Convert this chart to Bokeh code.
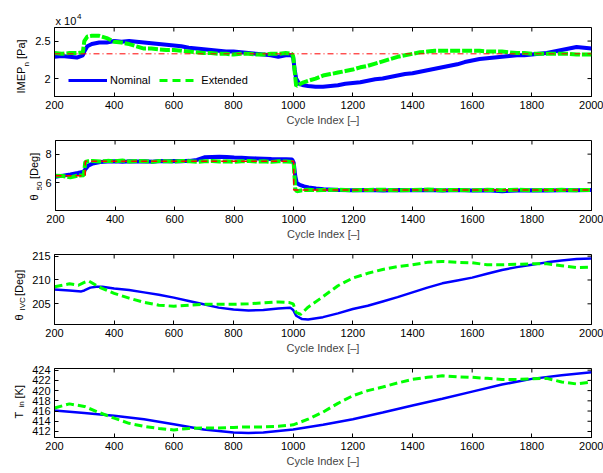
import math
from bokeh.plotting import figure
from bokeh.layouts import column, row
from bokeh.models import Range1d, FixedTicker, Legend, LegendItem
from bokeh.core.properties import value
from bokeh.embed import file_html
from bokeh.resources import INLINE

# ---------------- data ----------------
x_lim = [200, 2000]
x_ticks = [200, 400, 600, 800, 1000, 1200, 1400, 1600, 1800, 2000]

# Panel 1: IMEP_n (x 10^4 Pa)
imep_x = [200, 225, 250, 275, 295, 300, 310, 325, 350, 375, 400, 425, 450, 475, 500, 525, 550, 575,
          600, 625, 650, 675, 700, 725, 750, 775, 800, 825, 850, 875, 900, 925, 950, 975, 995, 1000,
          1005, 1010, 1020, 1035, 1050, 1075, 1100, 1125, 1150, 1175, 1200, 1225, 1250, 1275, 1300,
          1325, 1350, 1375, 1400, 1425, 1450, 1475, 1500, 1525, 1550, 1575, 1600, 1625, 1650, 1675,
          1700, 1725, 1750, 1775, 1800, 1825, 1850, 1875, 1900, 1925, 1950, 1975, 2000]
imep_nominal = [2.29, 2.30, 2.29, 2.28, 2.31, 2.36, 2.43, 2.46, 2.48, 2.48, 2.50, 2.49, 2.50, 2.49,
                2.48, 2.47, 2.46, 2.45, 2.44, 2.43, 2.41, 2.40, 2.39, 2.38, 2.37, 2.36, 2.36, 2.35,
                2.34, 2.33, 2.32, 2.31, 2.29, 2.31, 2.31, 2.28, 2.12, 2.00, 1.93, 1.91, 1.90, 1.89,
                1.89, 1.90, 1.91, 1.93, 1.94, 1.95, 1.97, 1.99, 2.00, 2.02, 2.04, 2.06, 2.07, 2.09,
                2.11, 2.13, 2.15, 2.17, 2.19, 2.22, 2.24, 2.26, 2.27, 2.28, 2.29, 2.30, 2.31, 2.31,
                2.32, 2.33, 2.34, 2.36, 2.38, 2.40, 2.42, 2.41, 2.40]
imep_extended = [2.34, 2.33, 2.34, 2.34, 2.35, 2.50, 2.56, 2.57, 2.57, 2.54, 2.49, 2.48, 2.46, 2.43,
                 2.40, 2.40, 2.39, 2.38, 2.38, 2.37, 2.36, 2.35, 2.34, 2.34, 2.33, 2.33, 2.32, 2.33,
                 2.33, 2.32, 2.32, 2.33, 2.33, 2.34, 2.33, 2.30, 2.10, 1.90, 1.92, 1.95, 1.97, 2.00,
                 2.04, 2.06, 2.08, 2.10, 2.12, 2.15, 2.17, 2.20, 2.23, 2.26, 2.29, 2.31, 2.33, 2.35,
                 2.36, 2.37, 2.37, 2.37, 2.37, 2.37, 2.37, 2.37, 2.36, 2.36, 2.36, 2.35, 2.34, 2.34,
                 2.33, 2.33, 2.33, 2.33, 2.33, 2.33, 2.32, 2.32, 2.32]
imep_ref_x = [200, 2000]
imep_ref = [2.33, 2.33]

# Panel 2: theta_50 [Deg]
th50_x = [200, 225, 250, 275, 295, 300, 310, 325, 350, 375, 400, 425, 450, 475, 500, 525, 550, 575,
          600, 625, 650, 675, 700, 725, 750, 775, 800, 825, 850, 875, 900, 925, 950, 975, 995, 1000,
          1005, 1010, 1020, 1035, 1050, 1075, 1100, 1150, 1200, 1250, 1300, 1350, 1400, 1450, 1500,
          1550, 1600, 1650, 1700, 1725, 1750, 1800, 1850, 1900, 1950, 2000]
th50_nominal = [6.42, 6.50, 6.58, 6.68, 6.78, 6.95, 7.20, 7.35, 7.45, 7.48, 7.50, 7.46, 7.50, 7.48,
                7.50, 7.47, 7.52, 7.50, 7.52, 7.50, 7.53, 7.60, 7.78, 7.80, 7.82, 7.80, 7.76, 7.74,
                7.72, 7.70, 7.68, 7.66, 7.65, 7.64, 7.62, 7.40, 6.50, 6.00, 5.85, 5.75, 5.68, 5.60,
                5.55, 5.50, 5.48, 5.50, 5.47, 5.50, 5.48, 5.50, 5.47, 5.50, 5.46, 5.48, 5.42, 5.44,
                5.47, 5.48, 5.47, 5.49, 5.48, 5.50]
th50_extended = [6.50, 6.48, 6.38, 6.50, 6.52, 7.45, 7.50, 7.52, 7.48, 7.53, 7.50, 7.55, 7.48, 7.52,
                 7.50, 7.46, 7.52, 7.50, 7.48, 7.52, 7.50, 7.46, 7.50, 7.52, 7.48, 7.50, 7.46, 7.50,
                 7.52, 7.48, 7.50, 7.46, 7.50, 7.48, 7.46, 7.40, 5.60, 5.40, 5.45, 5.50, 5.52, 5.48,
                 5.50, 5.52, 5.48, 5.50, 5.52, 5.48, 5.50, 5.53, 5.49, 5.50, 5.48, 5.51, 5.49, 5.50,
                 5.52, 5.48, 5.50, 5.51, 5.49, 5.50]
th50_ref_x = [200, 300, 300, 1000, 1000, 2000]
th50_ref = [6.5, 6.5, 7.5, 7.5, 5.5, 5.5]

# Panel 3: theta_IVC [Deg]
ivc_nom_x = [200, 250, 290, 300, 320, 340, 360, 400, 450, 500, 550, 600, 650, 700, 750, 800, 850,
             900, 950, 990, 1000, 1010, 1030, 1050, 1100, 1150, 1200, 1250, 1300, 1350, 1400, 1450,
             1500, 1550, 1600, 1650, 1700, 1750, 1800, 1850, 1900, 1950, 2000]
ivc_nominal = [208.0, 207.8, 207.6, 207.8, 208.4, 208.6, 208.6, 208.2, 207.9, 207.4, 206.9, 206.3,
               205.6, 204.9, 204.2, 203.8, 203.6, 203.7, 204.0, 204.2, 203.7, 202.5, 201.8, 201.7,
               202.2, 203.0, 203.9, 204.6, 205.5, 206.4, 207.4, 208.4, 209.3, 209.9, 210.5, 211.3,
               212.1, 212.7, 213.2, 213.7, 214.1, 214.4, 214.5]
ivc_ext_x = [200, 250, 280, 300, 315, 350, 400, 450, 500, 550, 600, 650, 700, 750, 800, 850, 900,
             950, 985, 1000, 1010, 1025, 1050, 1100, 1150, 1200, 1250, 1300, 1350, 1400, 1450, 1500,
             1550, 1600, 1650, 1700, 1750, 1800, 1850, 1900, 1950, 2000]
ivc_extended = [208.6, 209.2, 208.9, 209.5, 209.8, 208.5, 207.2, 206.2, 205.3, 204.7, 204.5, 204.7,
                204.9, 204.9, 204.9, 205.0, 205.2, 205.4, 205.3, 205.0, 203.2, 202.8, 204.3, 206.5,
                208.8, 210.4, 211.4, 212.2, 212.8, 213.2, 213.7, 213.9, 213.7, 213.6, 213.2, 213.2,
                213.3, 213.4, 213.4, 213.0, 212.6, 212.7]

# Panel 4: T_in [K]
tin_nom_x = [200, 300, 400, 500, 600, 700, 800, 850, 900, 1000, 1100, 1200, 1300, 1400, 1500, 1600,
             1700, 1800, 1900, 2000]
tin_nominal = [416.1, 415.6, 415.1, 414.4, 413.4, 412.4, 411.8, 411.7, 411.8, 412.4, 413.3, 414.4,
               415.7, 417.1, 418.4, 419.8, 421.2, 422.3, 423.0, 423.6]
tin_ext_x = [200, 250, 300, 350, 400, 450, 500, 550, 600, 650, 700, 750, 800, 850, 900, 950, 1000,
             1050, 1100, 1150, 1200, 1250, 1300, 1350, 1400, 1450, 1500, 1550, 1600, 1650, 1700,
             1750, 1800, 1850, 1900, 1950, 2000]
tin_extended = [416.6, 417.4, 416.9, 415.7, 414.6, 413.6, 413.0, 412.6, 412.3, 412.6, 412.7, 412.7,
                412.8, 412.9, 412.9, 413.0, 413.3, 414.4, 415.8, 417.5, 419.0, 420.0, 420.7, 421.5,
                422.2, 422.6, 422.9, 422.7, 422.6, 422.4, 422.2, 422.2, 422.3, 422.4, 421.7, 421.3,
                421.7]

series_labels = ["Nominal", "Extended"]
x_label = "Cycle Index [\u2013]"

# ---------------- style / layout ----------------
W = 603
FL, FR = 54, 12            # page x of frame left, right border width
FONT = "Liberation Sans"
FS = "11px"
BLUE, GREEN, RED = "#0000ff", "#00ff00", "#ff0000"
TOP_STRIP = 25


def strip(width, height, yr):
    s = figure(width=width, height=height, x_range=Range1d(0, width), y_range=Range1d(*yr),
               output_backend="svg", toolbar_location=None, x_axis_location=None,
               y_axis_location=None, min_border=0)
    s.grid.visible = False
    s.outline_line_color = None
    s.background_fill_color = "white"
    s.border_fill_color = "white"
    return s


def style_axis(ax, ticks, overrides=None):
    ax.ticker = FixedTicker(ticks=ticks)
    ax.minor_tick_line_color = None
    ax.major_tick_in = 4
    ax.major_tick_out = 0
    ax.axis_line_color = "black"
    ax.major_tick_line_color = "black"
    ax.major_label_text_font = FONT
    ax.major_label_text_font_size = FS
    ax.major_label_text_color = "black"
    ax.major_label_standoff = 4
    if overrides:
        ax.major_label_overrides = overrides


def make_panel(lab_w, height, top, bottom, yr, yticks, yover=None):
    p = figure(width=W - lab_w, height=height, x_range=Range1d(*x_lim), y_range=Range1d(*yr),
               output_backend="svg", toolbar_location=None,
               min_border_left=FL - lab_w, min_border_right=FR,
               min_border_top=top, min_border_bottom=bottom)
    p.grid.visible = False
    p.outline_line_color = "black"
    p.background_fill_color = "white"
    p.border_fill_color = "white"
    style_axis(p.xaxis[0], x_ticks, {t: str(t) for t in x_ticks})
    p.xaxis[0].axis_label = x_label
    p.xaxis[0].axis_label_text_font = FONT
    p.xaxis[0].axis_label_text_font_size = FS
    p.xaxis[0].axis_label_text_font_style = "normal"
    p.xaxis[0].axis_label_standoff = 2
    style_axis(p.yaxis[0], yticks, yover)
    # mirrored inward ticks on top and right edges
    p.ray(x=x_ticks, y=[yr[1]] * len(x_ticks), length=4, length_units="screen",
          angle=-math.pi / 2, line_color="black", line_width=1)
    p.ray(x=[x_lim[1]] * len(yticks), y=yticks, length=4, length_units="screen",
          angle=math.pi, line_color="black", line_width=1)
    return p


def ylabel_strip(lab_w, height, yr, frame_top, frame_h, pieces):
    # the strip's frame is aligned with the panel's frame by the row layout;
    # pieces: (text, font size, baseline x px, start y px) in page pixels
    s = strip(lab_w, height, yr)
    k = (yr[1] - yr[0]) / frame_h
    for txt, fs, bx, sy in pieces:
        s.text(x=[bx], y=[yr[1] - (sy - frame_top) * k], text=[txt], angle=math.pi / 2,
               text_align="left", text_baseline="alphabetic", text_font=value(FONT),
               text_font_size=value(fs), text_color="black")
    return s


yr1 = (1.761, 2.681)
yr2 = (4.07, 8.95)
yr3 = (200.66, 215.35)
yr4 = (410.82, 424.33)

# ---- top strip with exponent ----
top = strip(W, TOP_STRIP, (0, TOP_STRIP))
top.text(x=[55], y=[TOP_STRIP - 20], text=["x 10"], text_align="left", text_baseline="alphabetic",
         text_font=value(FONT), text_font_size=value("11px"), text_color="black")
top.text(x=[76.5], y=[TOP_STRIP - 15.5], text=["4"], text_align="left", text_baseline="alphabetic",
         text_font=value(FONT), text_font_size=value("8px"), text_color="black")

# ---- Panel 1 ----
L1, H1, T1, B1 = 30, 103, 2, 32
p1 = make_panel(L1, H1, T1, B1, yr1, [2.0, 2.5], {2.0: "2", 2.5: "2.5"})
p1.line(imep_x, imep_nominal, line_color=BLUE, line_width=4)
p1.line(imep_x, imep_extended, line_color=GREEN, line_width=4, line_dash="10 2")
p1.line(imep_ref_x, imep_ref, line_color=RED, line_width=1, line_dash="6 3 1 3")
# single-point lines: draw nothing on the plot, only give the legend its swatches
leg_nom = p1.line(imep_x[:1], imep_nominal[:1], line_color=BLUE, line_width=3)
leg_ext = p1.line(imep_x[:1], imep_extended[:1], line_color=GREEN, line_width=3, line_dash="8 5")
legend = Legend(items=[LegendItem(label=series_labels[0], renderers=[leg_nom]),
                       LegendItem(label=series_labels[1], renderers=[leg_ext])],
                orientation="horizontal", location=(14, 10), border_line_color=None,
                background_fill_alpha=0, padding=0, margin=0, spacing=9, glyph_width=39,
                glyph_height=12, label_standoff=3, label_text_font=FONT,
                label_text_font_size="11px", label_text_color="black", label_height=12)
p1.add_layout(legend)
lab1 = ylabel_strip(L1, H1, yr1, TOP_STRIP + T1, H1 - T1 - B1,
                    [("IMEP", "11px", 20.5, 93), ("n", "8px", 25.5, 66), ("[Pa]", "11px", 20.5, 58.5)])

# ---- Panel 2 ----
L2, H2, T2, B2 = 42, 114, 12, 32
row2_top = TOP_STRIP + H1
p2 = make_panel(L2, H2, T2, B2, yr2, [6, 8])
p2.line(th50_x, th50_nominal, line_color=BLUE, line_width=4)
p2.line(th50_x, th50_extended, line_color=GREEN, line_width=4, line_dash="10 2")
p2.line(th50_ref_x, th50_ref, line_color=RED, line_width=1.5, line_dash="6 4")
lab2 = ylabel_strip(L2, H2, yr2, row2_top + T2, H2 - T2 - B2,
                    [("\u03b8", "11px", 33, 200), ("50", "8px", 38.5, 190), ("[Deg]", "11px", 33, 178.5)])

# ---- Panel 3 ----
L3, H3, T3, B3 = 28, 114, 12, 32
row3_top = row2_top + H2
p3 = make_panel(L3, H3, T3, B3, yr3, [205, 210, 215])
p3.line(ivc_nom_x, ivc_nominal, line_color=BLUE, line_width=2.5)
p3.line(ivc_ext_x, ivc_extended, line_color=GREEN, line_width=3, line_dash="8 4")
lab3 = ylabel_strip(L3, H3, yr3, row3_top + T3, H3 - T3 - B3,
                    [("\u03b8", "11px", 18.5, 320), ("IVC", "8px", 21.5, 310), ("[Deg]", "11px", 18.5, 295.5)])

# ---- Panel 4 ----
L4, H4, T4, B4 = 28, 117, 12, 36
row4_top = row3_top + H3
p4 = make_panel(L4, H4, T4, B4, yr4, [412, 414, 416, 418, 420, 422, 424])
p4.line(tin_nom_x, tin_nominal, line_color=BLUE, line_width=2.5)
p4.line(tin_ext_x, tin_extended, line_color=GREEN, line_width=3, line_dash="8 4")
lab4 = ylabel_strip(L4, H4, yr4, row4_top + T4, H4 - T4 - B4,
                    [("T", "11px", 18, 418), ("in", "8px", 21, 407), ("[K]", "11px", 18, 398)])

layout = column(top, row(lab1, p1, spacing=0), row(lab2, p2, spacing=0),
                row(lab3, p3, spacing=0), row(lab4, p4, spacing=0), spacing=0)
open("out.html", "w").write(file_html(layout, INLINE))
